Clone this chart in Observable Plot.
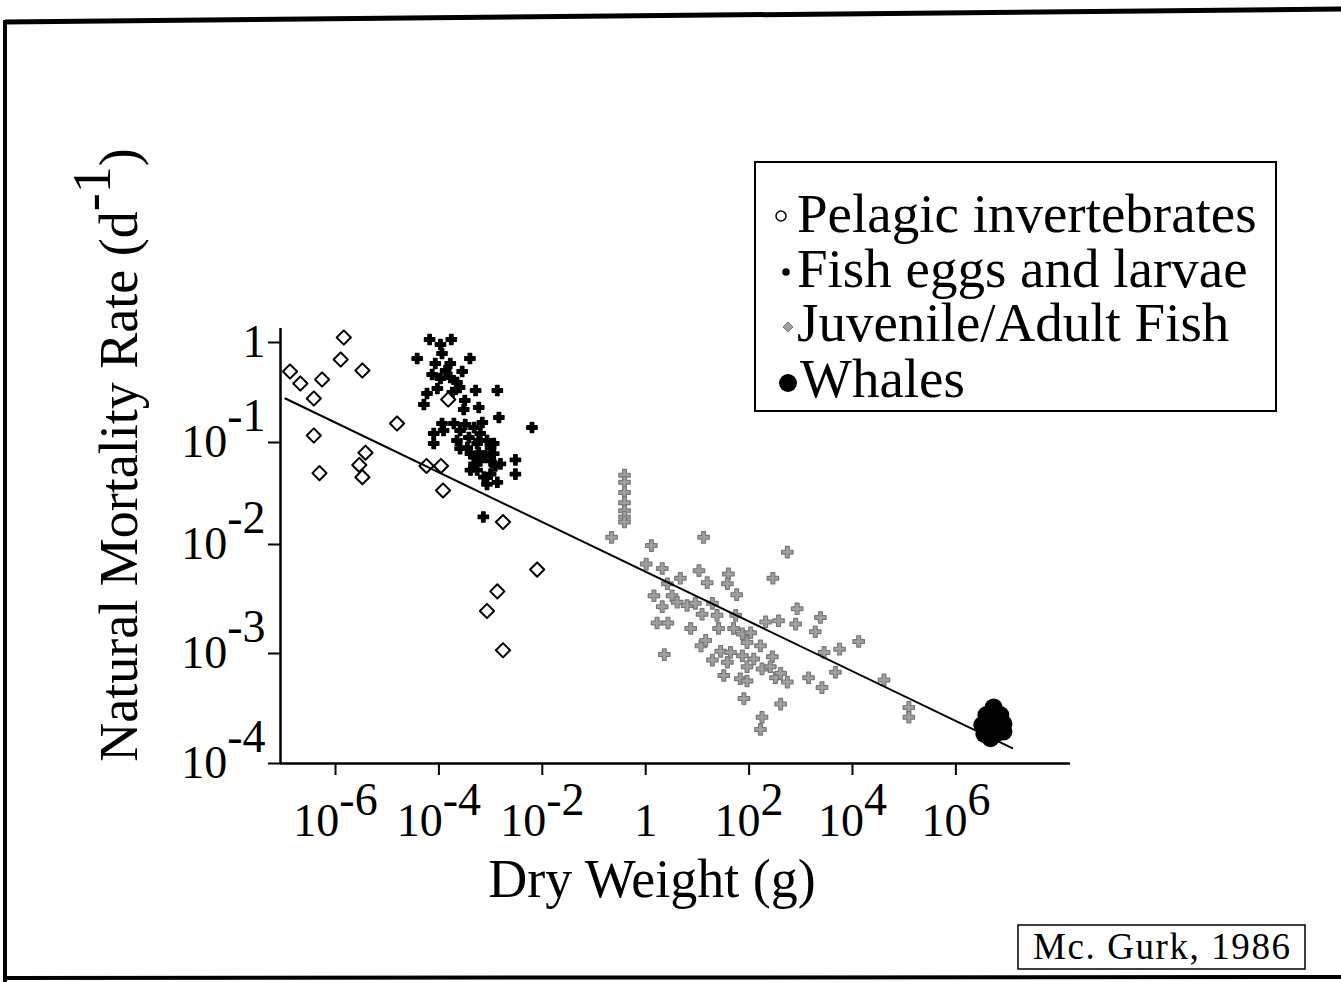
<!DOCTYPE html>
<html><head><meta charset="utf-8">
<script src="https://cdn.jsdelivr.net/npm/d3@7"></script>
<script src="https://cdn.jsdelivr.net/npm/@observablehq/plot@0.6"></script>
<style>body{margin:0;background:#fff} #chart{position:relative;width:1341px;height:982px}</style>
</head><body><div id="chart"></div>
<script>
// log10 of dry weight (g) and log10 of natural mortality rate (per day)
const pelagicLogW = [-5.84,-5.90,-6.88,-6.68,-6.26,-5.48,-6.42,-6.42,-6.31,-4.81,-5.42,-5.54,-5.48,-4.24,-3.96,-3.92,-3.82,-2.76,-2.10,-2.87,-3.07,-2.76];
const pelagicLogM = [0.05,-0.17,-0.29,-0.41,-0.37,-0.28,-0.56,-0.93,-1.30,-0.81,-1.10,-1.22,-1.34,-1.23,-1.23,-1.47,-0.57,-1.78,-2.23,-2.43,-2.61,-2.97];

const larvaeLogW = [-4.18,-3.97,-3.76,-4.42,-3.94,-3.40,-4.07,-3.78,-4.13,-3.87,-3.55,-3.97,-3.78,-3.65,-3.60,-4.03,-4.23,-4.29,-3.74,-3.29,-2.87,-3.50,-3.52,-3.23,-2.84,-2.20,
  -4.10,-4.10,-3.94,-3.71,-3.91,-3.59,-3.65,-3.59,-3.42,-3.32,-3.16,-3.20,-3.26,-3.07,-2.94,-3.39,-3.32,-3.20,-2.94,-2.81,-3.26,-3.13,-3.00,-2.87,-3.07,-2.52,-2.52,-3.14,-3.32,-3.23,-3.00,-3.45,-3.00,
  -3.39,-3.10,-3.23,-2.91,-3.49];
const larvaeLogM = [0.03,-0.02,0.03,-0.16,-0.11,-0.16,-0.21,-0.21,-0.32,-0.28,-0.29,-0.36,-0.35,-0.40,-0.45,-0.46,-0.51,-0.62,-0.50,-0.48,-0.48,-0.58,-0.67,-0.65,-0.75,-0.85,
  -0.91,-1.01,-0.81,-0.81,-0.88,-0.88,-0.98,-1.06,-0.95,-0.85,-0.80,-0.91,-1.01,-0.98,-1.01,-1.11,-1.21,-1.18,-1.11,-1.21,-1.27,-1.34,-1.31,-1.39,-1.41,-1.17,-1.31,-1.73,-1.14,-1.10,-1.18,-1.05,-1.05,
  -1.27,-1.13,-0.98,-1.23,-0.82];

const fishLogW = [-0.41,-0.41,-0.41,-0.41,-0.41,-0.41,-0.41,
  -0.66,0.11,1.12,2.74,0.01,0.32,1.03,1.60,1.58,1.19,0.67,0.42,2.46,0.16,1.76,0.51,0.32,0.61,0.80,0.96,1.29,1.09,1.38,1.74,
  0.22,0.43,1.41,1.70,1.87,1.96,2.32,2.57,2.93,2.90,3.38,3.28,0.36,1.07,1.45,1.64,2.22,1.87,2.09,2.45,1.58,1.96,2.25,2.41,
  1.51,1.83,1.96,2.51,2.61,2.74,3.15,3.41,1.90,2.61,2.25,2.22,3.45,3.67,3.75,4.12,4.61,5.09,5.09,1.16,0.87,2.03,1.29];
const fishLogM = [-1.32,-1.39,-1.49,-1.59,-1.67,-1.73,-1.78,
  -1.93,-2.01,-1.93,-2.07,-2.18,-2.22,-2.24,-2.27,-2.36,-2.35,-2.31,-2.36,-2.31,-2.47,-2.46,-2.47,-2.57,-2.53,-2.56,-2.54,-2.54,-2.64,-2.65,-2.65,
  -2.72,-2.72,-2.77,-2.77,-2.82,-2.90,-2.71,-2.70,-2.59,-2.73,-2.67,-2.80,-3.01,-2.93,-2.98,-2.99,-2.93,-3.02,-3.05,-3.03,-3.08,-3.12,-3.14,-3.12,
  -3.20,-3.23,-3.25,-3.22,-3.18,-3.26,-3.22,-3.31,-3.41,-3.46,-3.58,-3.69,-2.99,-3.17,-2.96,-2.89,-3.24,-3.49,-3.58,-2.88,-2.77,-2.81,-3.06];

const whaleLogW = [6.73,6.59,6.86,6.51,6.73,6.92,6.55,6.77,6.92,6.67];
const whaleLogM = [-3.49,-3.56,-3.56,-3.65,-3.63,-3.64,-3.73,-3.73,-3.71,-3.77];

const fitLogW = [-6.97, 7.09];
const fitLogM = [-0.56, -3.86];

const xTicks = [1e-6, 1e-4, 1e-2, 1, 1e2, 1e4, 1e6];
const xTickLabels = ["10^-6", "10^-4", "10^-2", "1", "10^2", "10^4", "10^6"];
const yTicks = [1, 1e-1, 1e-2, 1e-3, 1e-4];
const yTickLabels = ["1", "10^-1", "10^-2", "10^-3", "10^-4"];

const legendLabels = ["Pelagic invertebrates", "Fish eggs and larvae", "Juvenile/Adult Fish", "Whales"];
const xTitle = "Dry Weight (g)";
const yTitle = ["Natural Mortality Rate (d", "-1", ")"];
const caption = "Mc. Gurk, 1986";

const toPts = (lw, lm) => lw.map((w, i) => ({w: 10 ** w, m: 10 ** lm[i]}));
const pelagic = toPts(pelagicLogW, pelagicLogM);
const larvae = toPts(larvaeLogW, larvaeLogM);
const fish = toPts(fishLogW, fishLogM);
const whales = toPts(whaleLogW, whaleLogM);
const fit = toPts(fitLogW, fitLogM);

const X0 = 10 ** -7.064, X1 = 10 ** 8.217;
const FONT = "'Liberation Serif', 'Times New Roman', serif";

const chart = Plot.plot({
  width: 1341, height: 982,
  marginLeft: 280, marginRight: 271, marginTop: 328, marginBottom: 219,
  style: {fontFamily: FONT, background: "white", color: "black", overflow: "visible"},
  x: {type: "log", domain: [X0, X1]},
  y: {type: "log", domain: [1e-4, 1e-3, 1e-2, 1e-1, 1, 10 ** 0.14], range: [763, 653, 544, 442, 342, 328]},
  marks: [
    Plot.dot(larvae, {x: "w", y: "m", symbol: "cross", r: 4.3, fill: "black", stroke: "black", strokeWidth: 1.4, strokeLinejoin: "round"}),
    Plot.dot(pelagic, {x: "w", y: "m", symbol: "diamond2", r: 6.4, fill: "white", stroke: "black", strokeWidth: 2, strokeLinejoin: "round"}),
    Plot.dot(fish, {x: "w", y: "m", symbol: "cross", r: 4.8, fill: "#a0a0a0", stroke: "#777777", strokeWidth: 1.2, strokeLinejoin: "round"}),
    Plot.line(fit, {x: "w", y: "m", stroke: "black", strokeWidth: 2}),
    Plot.dot(whales, {x: "w", y: "m", symbol: "circle", r: 9, fill: "black"}),
    Plot.ruleX([X0], {y1: 1e-4, y2: 10 ** 0.14, stroke: "black", strokeWidth: 2.5}),
    Plot.ruleY([1e-4], {x1: X0, x2: X1, stroke: "black", strokeWidth: 2.5}),
    Plot.axisX(xTicks, {anchor: "bottom", tickFormat: d => xTickLabels[xTicks.indexOf(d)], tickSize: 12, tickPadding: 28, fontSize: 46, strokeWidth: 2, label: null}),
    Plot.axisY(yTicks, {anchor: "left", tickFormat: d => yTickLabels[yTicks.indexOf(d)], tickSize: 12, tickPadding: 3, fontSize: 46, strokeWidth: 2, label: null})
  ]
});
document.getElementById("chart").appendChild(chart);

const svg = d3.select(chart);
// superscripts in tick labels
svg.selectAll("text").each(function () {
  const m = /^10\^(.+)$/.exec(this.textContent);
  if (!m) return;
  const lab = (this.parentNode.getAttribute("aria-label") || "");
  const isY = lab.startsWith("y");
  this.textContent = "10";
  d3.select(this).append("tspan").attr("dy", isY ? "-0.58em" : "-0.45em").text(m[1]);
});

// outer frame
svg.append("line").attr("x1", 5).attr("y1", 22).attr("x2", 1341).attr("y2", 9).attr("stroke", "black").attr("stroke-width", 5);
svg.append("line").attr("x1", 5).attr("y1", 20).attr("x2", 5).attr("y2", 982).attr("stroke", "black").attr("stroke-width", 4);
svg.append("line").attr("x1", 5).attr("y1", 978).attr("x2", 1341).attr("y2", 977).attr("stroke", "black").attr("stroke-width", 4);

// axis titles
const yt = svg.append("text").attr("transform", "translate(137,455) rotate(-90)")
  .attr("text-anchor", "middle").attr("font-size", 54).attr("font-family", FONT).attr("fill", "black");
yt.append("tspan").text(yTitle[0]);
yt.append("tspan").attr("dy", "-0.5em").text(yTitle[1]);
yt.append("tspan").attr("dy", "0.5em").text(yTitle[2]);
svg.append("text").attr("x", 652).attr("y", 897).attr("text-anchor", "middle")
  .attr("font-size", 54).attr("font-family", FONT).attr("fill", "black").text(xTitle);

// legend
const lg = svg.append("g");
lg.append("rect").attr("x", 755).attr("y", 162).attr("width", 521).attr("height", 249)
  .attr("fill", "white").attr("stroke", "black").attr("stroke-width", 2);
const rowBase = [232, 287, 341, 397];
const rowMid = [216, 272, 327, 383];
legendLabels.forEach((t, i) => {
  lg.append("text").attr("x", i === 3 ? 800 : 797).attr("y", rowBase[i]).attr("font-size", 55)
    .attr("text-anchor", "start").attr("font-family", FONT).attr("fill", "black").text(t);
});
lg.append("circle").attr("cx", 781).attr("cy", rowMid[0]).attr("r", 5).attr("fill", "white").attr("stroke", "black").attr("stroke-width", 1.5);
lg.append("circle").attr("cx", 786).attr("cy", rowMid[1]).attr("r", 3.8).attr("fill", "black");
lg.append("path").attr("d", `M788,${rowMid[2]-5}L793,${rowMid[2]}L788,${rowMid[2]+5}L783,${rowMid[2]}Z`).attr("fill", "#a0a0a0").attr("stroke", "#777777");
lg.append("circle").attr("cx", 788).attr("cy", rowMid[3]).attr("r", 9).attr("fill", "black");

// caption
svg.append("rect").attr("x", 1018).attr("y", 925).attr("width", 287).attr("height", 44)
  .attr("fill", "white").attr("stroke", "black").attr("stroke-width", 1.5);
svg.append("text").attr("x", 1033).attr("y", 959).attr("font-size", 37).attr("text-anchor", "start")
  .attr("textLength", 257).attr("lengthAdjust", "spacing")
  .attr("font-family", FONT).attr("fill", "black").text(caption);
</script></body></html>
